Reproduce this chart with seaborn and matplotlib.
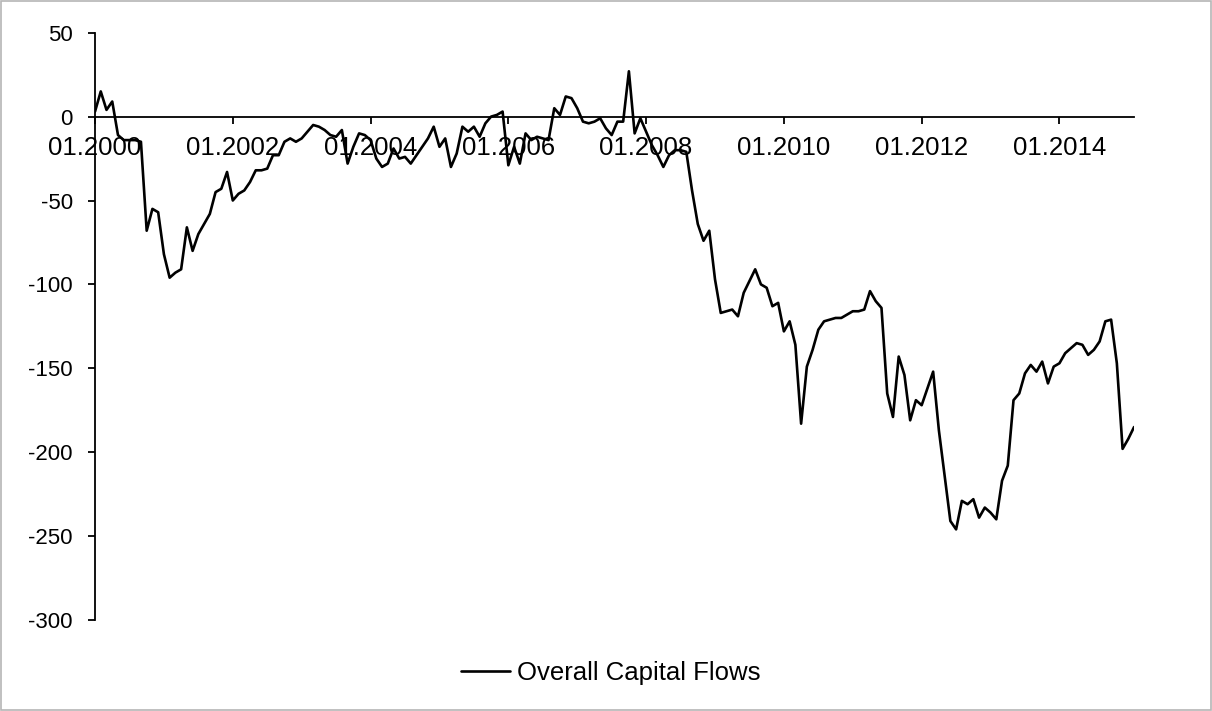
import numpy as np
import pandas as pd
import matplotlib.pyplot as plt
import seaborn as sns
from matplotlib.patches import Rectangle

sns.set_style("white")
plt.rcParams['font.family'] = ['Liberation Sans', 'DejaVu Sans']
plt.rcParams['axes.unicode_minus'] = False
plt.rcParams['text.color'] = 'black'

# --- data: monthly values, 01.2000 .. 02.2015 ---
flows = [
    3, 15, 4, 9, -11, -14, -14, -14, -15, -68,          # 2000
    -55, -57,
    -82, -96, -93, -91, -66, -80, -70, -64, -58, -45,   # 2001
    -43, -33,
    -50, -46, -44, -39, -32, -32, -31, -23, -23, -15,   # 2002
    -13, -15,
    -13, -9, -5, -6, -8, -11, -12, -8, -28, -18,        # 2003
    -10, -11,
    -14, -25, -30, -28, -19, -25, -24, -28, -23, -18,   # 2004
    -13, -6,
    -18, -13, -30, -22, -6, -9, -6, -12, -4, 0,         # 2005
    1, 3,
    -29, -18, -28, -10, -14, -12, -13, -14, 5, 1,       # 2006
    12, 11,
    5, -3, -4, -3, -1, -7, -11, -3, -3, 27,             # 2007
    -10, -1,
    -9, -17, -23, -30, -23, -20, -20, -21, -44, -64,    # 2008
    -74, -68,
    -97, -117, -116, -115, -119, -105, -98, -91, -100, -102,  # 2009
    -113, -111,
    -128, -122, -136, -183, -149, -139, -127, -122, -121, -120,  # 2010
    -120, -118,
    -116, -116, -115, -104, -110, -114, -165, -179, -143, -154,  # 2011
    -181, -169,
    -172, -162, -152, -187, -214, -241, -246, -229, -231, -228,  # 2012
    -239, -233,
    -236, -240, -217, -208, -169, -165, -153, -148, -152, -146,  # 2013
    -159, -149,
    -147, -141, -138, -135, -136, -142, -139, -134, -122, -121,  # 2014
    -147, -198,
    -192, -185,                                          # 2015
]
tick_labels = ["01.2000", "01.2002", "01.2004", "01.2006",
               "01.2008", "01.2010", "01.2012", "01.2014"]
y_ticks = [50, 0, -50, -100, -150, -200, -250, -300]
series_name = "Overall Capital Flows"

months = pd.date_range("2000-01-01", periods=len(flows), freq="MS")
df = pd.DataFrame({"t": np.arange(len(flows)),
                   "label": months.strftime("%m.%Y"),
                   "flows": flows})
tick_pos = df.loc[df["label"].isin(tick_labels), "t"].tolist()

fig = plt.figure(figsize=(12.12, 7.11), dpi=100)
ax = fig.add_axes([0.0784, 0.128, 0.8573, 0.826])

sns.lineplot(data=df, x="t", y="flows", color="black", linewidth=1.9,
             label=series_name, ax=ax, zorder=3)

ax.set_xlim(0, len(flows) - 1)
ax.set_ylim(-300, 50)
ax.set_yticks(y_ticks)
ax.set_xticks(tick_pos)
ax.set_xticklabels(tick_labels)
ax.set_xlabel("")
ax.set_ylabel("")

# excel-style axes: x axis sits on zero
for s in ["top", "right"]:
    ax.spines[s].set_visible(False)
ax.spines["bottom"].set_position(("data", 0))
ax.spines["bottom"].set_color("black")
ax.spines["left"].set_color("black")
ax.spines["bottom"].set_linewidth(1.3)
ax.spines["left"].set_linewidth(1.3)

ax.tick_params(axis="x", direction="out", length=5, width=1.3,
               labelsize=18.5, pad=9, colors="black", bottom=True)
ax.tick_params(axis="y", direction="out", length=5, width=1.3,
               labelsize=16, pad=11, colors="black", left=True)
ax.grid(False)

handles, labels = ax.get_legend_handles_labels()
ax.get_legend().remove()
leg = fig.legend(handles, labels, loc="center", bbox_to_anchor=(0.504, 0.053),
                 frameon=False, fontsize=18.5, handlelength=1.9,
                 handletextpad=0.25)
for txt in leg.get_texts():
    txt.set_color("black")

# thin grey chart-area border
fig.patches.append(Rectangle((0.0006, 0.001), 0.9986, 0.9975,
                             transform=fig.transFigure, fill=False,
                             edgecolor="#b5b5b5", linewidth=1.2))

fig.savefig("out.png", dpi=100)
